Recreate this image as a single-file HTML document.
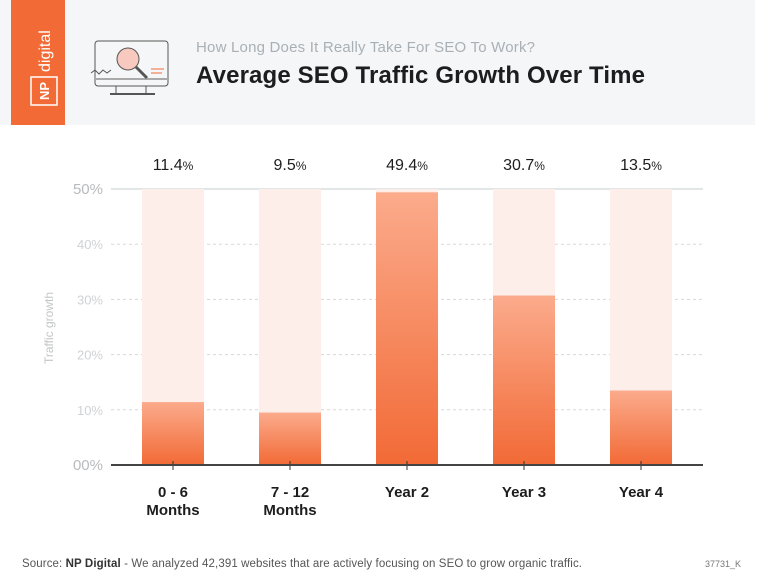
<!DOCTYPE html>
<html><head><meta charset="utf-8"><style>
body{margin:0;width:770px;height:588px;background:#fff;font-family:"Liberation Sans",sans-serif;overflow:hidden;position:relative}
</style></head><body>
<div style="position:absolute;left:0;top:0;width:755px;height:125px;background:#f5f6f8"></div>
<div style="position:absolute;left:11px;top:0;width:54px;height:125px;background:#f26a36"></div>
<svg width="770" height="588" style="position:absolute;left:0;top:0">
<g transform="translate(44,105) rotate(-90)">
<rect x="0" y="-13" width="28" height="26" fill="none" stroke="#fff" stroke-width="1.5"/>
<text x="14" y="5" text-anchor="middle" fill="#fff" font-size="13" font-weight="bold">NP</text>
<text x="33" y="6" fill="#fff" font-size="16">digital</text>
</g>
<g fill="none" stroke="#555" stroke-width="1">
<rect x="95" y="41" width="73" height="45" rx="3"/>
<line x1="95" y1="79" x2="168" y2="79" stroke="#aaa" stroke-width="2"/>
<line x1="116" y1="86" x2="116" y2="94"/><line x1="146" y1="86" x2="146" y2="94"/>
<line x1="110" y1="94" x2="155" y2="94" stroke-width="2"/>
<circle cx="128" cy="59" r="11" fill="#f8c9be"/>
<line x1="136" y1="67" x2="147" y2="78" stroke-width="3"/>
<polyline points="91,73 95,70 99,74 103,70 107,73 111,70"/>
<line x1="151" y1="69" x2="164" y2="69" stroke="#f26a36"/><line x1="151" y1="73" x2="162" y2="73" stroke="#f26a36"/>
</g>
<text x="196" y="52" font-size="15" fill="#a9b0b5" textLength="339">How Long Does It Really Take For SEO To Work?</text>
<text x="196" y="83" font-size="24" font-weight="bold" fill="#1d1d1d" textLength="449">Average SEO Traffic Growth Over Time</text>
<text transform="translate(53,328) rotate(-90)" text-anchor="middle" font-size="12" fill="#c3c6c8">Traffic growth</text>
<defs><linearGradient id="g" x1="0" y1="0" x2="0" y2="1"><stop offset="0" stop-color="#fbab8c"/><stop offset="1" stop-color="#f26a36"/></linearGradient></defs>
<g id="plot"></g>
<text x="22" y="567" font-size="11.5" fill="#555" textLength="560">Source: <tspan font-weight="bold" fill="#333">NP Digital</tspan> - We analyzed 42,391 websites that are actively focusing on SEO to grow organic traffic.</text>
<text x="741" y="567" font-size="9" fill="#777" text-anchor="end">37731_K</text>
</svg>
<script>
const categories=[["0 - 6","Months"],["7 - 12","Months"],["Year 2"],["Year 3"],["Year 4"]];
const values=[11.4,9.5,49.4,30.7,13.5];
const valueLabels=["11.4","9.5","49.4","30.7","13.5"];
const ticks=[0,10,20,30,40,50];
const tickLabels=["00%","10%","20%","30%","40%","50%"];
const NS="http://www.w3.org/2000/svg";
const g=document.getElementById('plot');
const y0=465,y50=189,xL=111,xR=703,step=117,x0=173,bw=62;
const y=v=>y0-(y0-y50)*v/50;
const x=i=>x0+i*step;
function mk(t,a){const e=document.createElementNS(NS,t);for(const k in a)e.setAttribute(k,a[k]);g.appendChild(e);return e;}
ticks.forEach((t,i)=>{
 if(t>0){const l=mk('line',{x1:xL,x2:xR,y1:y(t),y2:y(t),stroke:t==50?'#e3e6e7':'#d6d8da','stroke-width':t==50?2:1,'stroke-dasharray':t==50?'':'3,3'});
 
 }
 const tx=mk('text',{x:103,y:y(t)+5,'text-anchor':'end','font-size':(t==50||t==0)?15:13,fill:(t==50||t==0)?'#b8bbbe':'#cfd2d4'});
 tx.textContent=tickLabels[i];
 
 
});
values.forEach((v,i)=>{
 const bg=mk('rect',{x:x(i)-bw/2,y:y(50),width:bw,height:y0-y(50),fill:'#fdeeea'});
 
 
 const b=mk('rect',{x:x(i)-bw/2,y:y(v),width:bw,height:y0-y(v),fill:'url(#g)'});
 
 
 const t=mk('text',{x:x(i),y:170,'text-anchor':'middle','font-size':16,fill:'#1d1d1d'});
 t.innerHTML=valueLabels[i]+'<tspan font-size="12">%</tspan>';
 
 
 const tk=mk('line',{x1:x(i),x2:x(i),y1:y0-4,y2:y0+5,stroke:'#333'});
 
 
 categories[i].forEach((c,j)=>{
  const ct=mk('text',{x:x(i),y:497+j*18,'text-anchor':'middle','font-size':15,'font-weight':'bold',fill:'#1d1d1d'});
  ct.textContent=c;
  
  
 });
});
const ax=mk('line',{x1:xL,x2:xR,y1:y0,y2:y0,stroke:'#444','stroke-width':2});


</script>
</body></html>
